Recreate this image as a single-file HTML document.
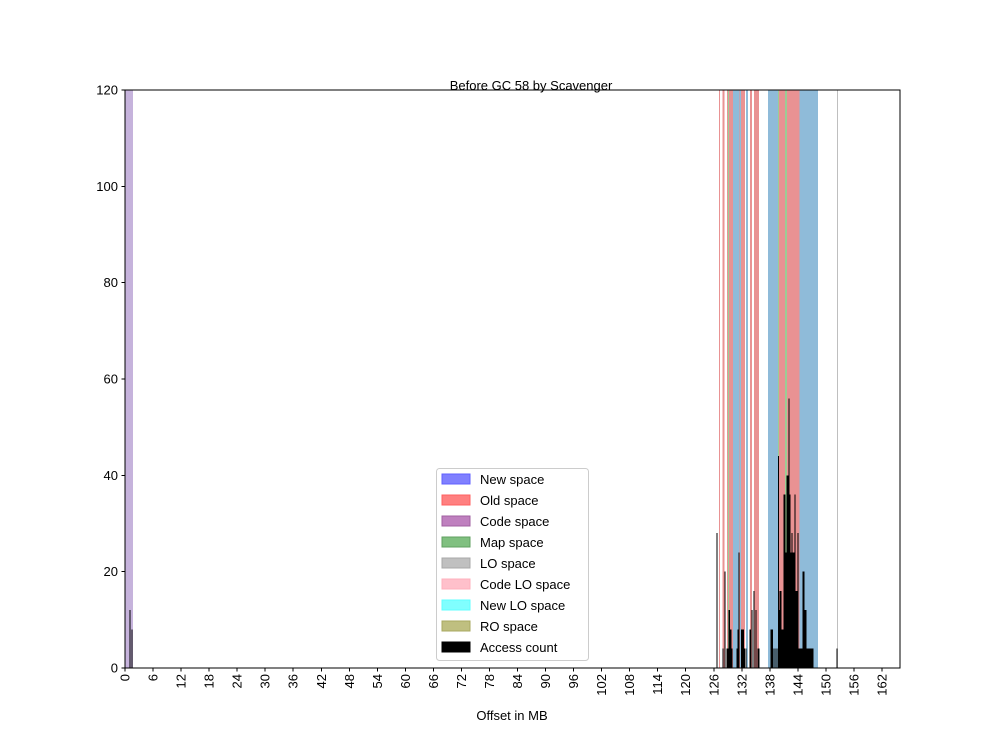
<!DOCTYPE html>
<html><head><meta charset="utf-8"><style>
body{margin:0;background:#fff;}
svg text{font-family:"Liberation Sans","DejaVu Sans",sans-serif;font-size:13px;fill:#000;}
</style></head><body>
<svg id="chart" width="1000" height="750">
<rect width="1000" height="750" fill="#fff"/>
<g id="bands" shape-rendering="crispEdges"></g>
<g id="bars" shape-rendering="crispEdges"></g>
<g id="axes" shape-rendering="crispEdges"></g>
<text x="531" y="90" text-anchor="middle">Before GC 58 by Scavenger</text>
<text x="512" y="720" text-anchor="middle">Offset in MB</text>
<g id="legend"></g>
</svg>
<script>
const bandStarts=[0,127.1,127.9,128.8,129.0,129.25,130.1,131.45,131.6,131.8,132.9,133.7,134.6,137.6,139.75,139.95,141.2,141.7,144.3,152.4];
const bandEnds=[1.75,127.3,128.3,129.0,129.25,130.1,131.45,131.6,131.8,132.7,133.3,134.2,135.7,139.75,139.95,141.2,141.7,144.3,148.3,152.6];
const bandKinds=["code","old","old","old","map","old","new","old","new","old","new","old","old","new","map","old","map","old","new","lo"];
const barOffsets=[1.07,1.5,126.7,128.0,128.4,128.8,129.0,129.3,129.5,129.7,129.9,131.0,131.2,131.4,131.9,132.1,132.3,132.5,132.9,133.8,134.2,134.6,135.0,135.5,135.7,138.2,138.5,138.7,139.1,139.5,139.8,140.0,140.2,140.4,140.6,140.8,141.0,141.2,141.5,141.7,141.9,142.1,142.3,142.5,142.7,142.9,143.2,143.4,143.6,143.8,144.0,144.2,144.4,144.7,144.9,145.1,145.3,145.5,145.7,145.9,146.2,146.4,146.6,146.8,147.0,147.2,152.4];
const barCounts=[12,8,28,4,20,4,4,12,8,8,4,4,8,24,8,8,8,4,4,8,12,16,12,4,4,8,8,4,4,4,44,12,16,16,8,8,36,36,24,40,40,56,36,24,28,24,24,36,16,16,28,4,4,4,4,20,20,12,12,4,4,4,4,4,4,4,4];
const xTicks=[0,6,12,18,24,30,36,42,48,54,60,66,72,78,84,90,96,102,108,114,120,126,132,138,144,150,156,162];
const yTicks=[0,20,40,60,80,100,120];
const legendLabels=["New space","Old space","Code space","Map space","LO space","Code LO space","New LO space","RO space","Access count"];
const legendFills=["#8080ff","#ff8080","#bf80bf","#80c080","#c0c0c0","#ffc0cb","#80ffff","#bfbf80","#000"];
const legendStrokes=["#6060ff","#ff6060","#a060a0","#60a060","#a8a8a8","#ffb0bc","#60ffff","#a8a860","#000"];

const L=125,R=900,T=90,B=668,XMAX=165.85,YMAX=120;
const xs=v=>L+v/XMAX*(R-L);
const ys=v=>B-v/YMAX*(B-T);
const NS="http://www.w3.org/2000/svg";
const mk=(t,a,p)=>{const e=document.createElementNS(NS,t);for(const k in a)e.setAttribute(k,a[k]);p.appendChild(e);return e;};
const kindColor={new:"#8fbbd9",old:"#e99293",code:"#c6b3dc",map:"#9ccc95",lo:"#bfbfbf"};

const gB=document.getElementById('bands');
bandStarts.forEach((s,i)=>{
  const x0=xs(s),x1=xs(bandEnds[i]);
  const r=mk('rect',{x:x0,y:T,width:Math.max(x1-x0,1),height:B-T,fill:kindColor[bandKinds[i]]},gB);
  
  
});
const gA=document.getElementById('bars');
barOffsets.forEach((o,i)=>{
  const y=ys(barCounts[i]);
  const r=mk('rect',{x:xs(o)-0.5,y:y,width:1.1,height:B-y,fill:"#000"},gA);
  
  
});
const gX=document.getElementById('axes');
mk('rect',{x:L,y:T,width:R-L,height:B-T,fill:"none",stroke:"#000","stroke-width":1},gX);
xTicks.forEach(v=>{
  const x=xs(v);
  mk('line',{x1:x,y1:B,x2:x,y2:B+3.5,stroke:"#000"},gX);
  const t=mk('text',{x:0,y:0,transform:`translate(${x+4.5},${B+6}) rotate(-90)`,"text-anchor":"end"},gX);
  t.textContent=v;
  
  
});
yTicks.forEach(v=>{
  const y=ys(v);
  mk('line',{x1:L-3.5,y1:y,x2:L,y2:y,stroke:"#000"},gX);
  const t=mk('text',{x:L-7,y:y+4.5,"text-anchor":"end"},gX);
  t.textContent=v;
  
  
});
const gL=document.getElementById('legend');
mk('rect',{x:436.5,y:468.5,width:152,height:192,rx:3,fill:"#fff","fill-opacity":0.8,stroke:"#ccc"},gL);
legendLabels.forEach((lab,i)=>{
  const y=474+i*21;
  const p=mk('rect',{x:442,y:y,width:28,height:10,fill:legendFills[i],stroke:legendStrokes[i]},gL);
  
  
  const t=mk('text',{x:480,y:y+10},gL);
  t.textContent=lab;
  
  
});
</script>
</body></html>
